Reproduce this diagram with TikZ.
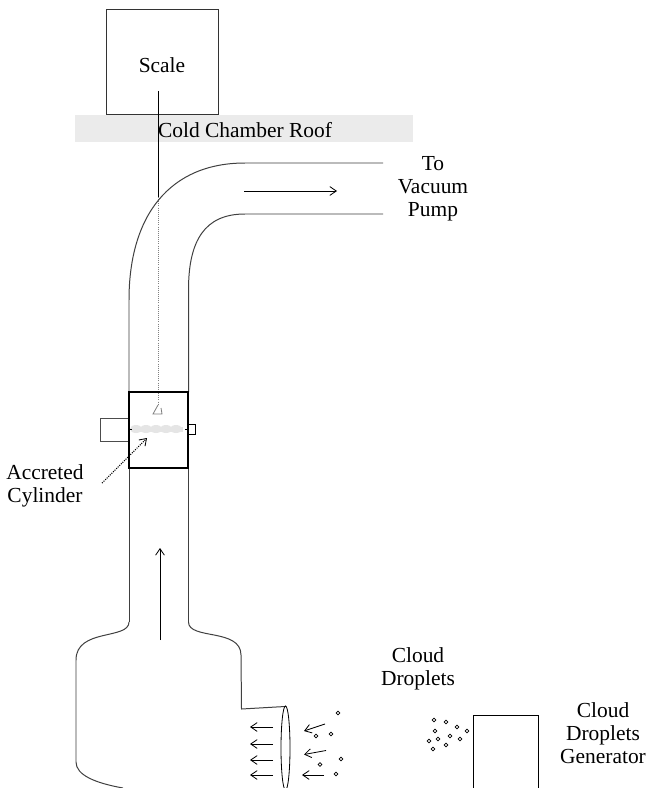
\documentclass[tikz,border=0pt]{standalone}
\usepackage{xcolor}
\usepackage{fontspec}
\setmainfont{Liberation Serif}
\usepackage{tikz}
\usetikzlibrary{arrows.meta}

\begin{document}
\begin{tikzpicture}[x=0.03cm,y=-0.03cm,font=\fontsize{18.3}{19.6}\selectfont,line width=0.7pt,
    >={Straight Barb[length=5.5pt,width=7.5pt,line width=0.7pt]},
    label/.style={align=center,inner sep=0pt},
    pipe/.style={black!75,line width=0.85pt},
    droplet/.style={line width=0.55pt}]
  \useasboundingbox (0,0) rectangle (646,788);
  \fill[white] (0,0) rectangle (646,788);
  % roof and scale
  \fill[gray!16] (75,115) rectangle (413,142);
  \draw[black!80] (106,9.5) rectangle (218,114);
  \node[label] (scale) at (162,65) {Scale};
  \node[label] (roof) at (245,130) {Cold Chamber Roof};
  \draw (158,91)--(158,197);
  \draw[gray,densely dotted,line width=0.8pt] (158,197)--(158,405);
  \draw[gray] (158,405)--(153,414)--(162,414)--(161,408);
  % pipe
  \draw[pipe] (129,392)--(129,300) .. controls (129,215) and (170,163) .. (245,163)--(383,163);
  \draw[pipe] (188.5,392)--(188.5,290) .. controls (188.5,240) and (205,214) .. (245,214)--(383,214);
  \draw[pipe] (129,468)--(129,622) (188.5,468)--(188.5,622);
  \draw[->] (244,191)--(337,191);
  \node[label] (pump) at (433,189) {To\\Vacuum\\Pump};
  % test section
  \draw[black!70] (128,418)--(100,418)--(100,441)--(128,441);
  \draw (188,424)--(195,424)--(195,434)--(188,434);
  \fill[gray!20] (132,426.5) rectangle (183,431.5);
  \foreach \horizontal in {136,146,156,166,176}
    \fill[gray!20] (\horizontal,429) ellipse (6 and 4);
  \draw (128,429)--(132,429) (185,429)--(188,429);
  \draw[line width=2.4pt] (129,392) rectangle (188,468);
  \draw[densely dotted,line width=0.9pt,->] (102,483)--(147,438);
  \node[label] (cylinder) at (45,486) {Accreted\\Cylinder};
  % bottle
  \draw[->] (160,640)--(160,548);
  \draw[pipe] (129,622) .. controls (129,640) and (76,628) .. (76,660)
    -- (76,762) .. controls (76,775) and (95,783) .. (123,788);
  \draw[pipe] (188.5,622) .. controls (188.5,640) and (241,628) .. (241,655)
    -- (241.5,709)--(285,706.5);
  \draw (285.5,748) ellipse (4.5 and 42);
  \foreach \vertical in {727,744,760,775}
    \draw[->] (273,\vertical)--(250,\vertical);
  \draw[->] (325,724)--(304,731);
  \draw[->] (326,750.5)--(304,754.5);
  \draw[->] (324,775)--(302,775);
  \foreach \horizontal/\vertical in {338/713,316/736,331/734,320/764.5,341/759,336/774}
    \draw[droplet] (\horizontal,\vertical) circle (1.9);
  \node[label] (droplets) at (418,668.5) {Cloud\\Droplets};
  % generator
  \draw (473,788)--(473,715)--(538,715)--(538,788);
  \foreach \horizontal/\vertical in {434/720,446/722,457/727,467/731,435/731,450/736,438/739,429/741,460/739,446/745,433/749}
    \draw[droplet] (\horizontal,\vertical) circle (1.9);
  \node[label] (generator) at (603,733.5) {Cloud\\Droplets\\Generator};
\end{tikzpicture}
\end{document}
